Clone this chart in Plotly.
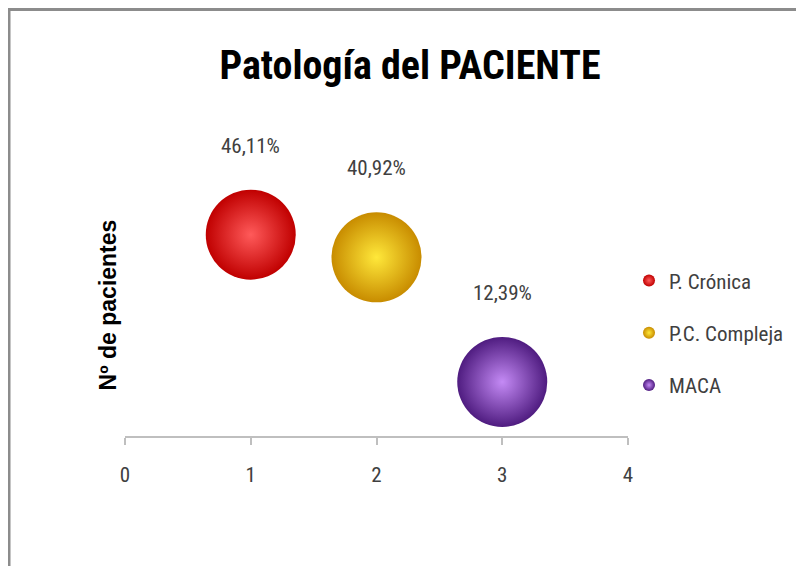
import plotly.graph_objects as go

categories = ["P. Crónica", "P.C. Compleja", "MACA"]
x_values = [1, 2, 3]
percent_values = [46.11, 40.92, 12.39]
label_texts = ["46,11%", "40,92%", "12,39%"]
center_colors = ["#ff5a5a", "#ffe83a", "#c48af5"]
edge_colors = ["#c00000", "#c88c00", "#4f1c80"]
x_ticks = [0, 1, 2, 3, 4]

NARROW = "Liberation Sans Narrow, Arial Narrow, Roboto Condensed, sans-serif"

fig = go.Figure()
for i, name in enumerate(categories):
    fig.add_trace(go.Scatter(
        x=[x_values[i]], y=[percent_values[i]],
        mode="markers", name=name,
        legendgroup=name,
        marker=dict(size=90, color=edge_colors[i],
                    gradient=dict(type="radial", color=center_colors[i]),
                    line=dict(width=0)),
        cliponaxis=False,
        hoverinfo="skip",
    ))
    fig.add_annotation(x=x_values[i], y=percent_values[i], text=label_texts[i],
                       showarrow=False, yshift=89,
                       font=dict(family=NARROW, size=21, color="#404040"))

fig.update_layout(
    width=796, height=558,
    paper_bgcolor="white", plot_bgcolor="white",
    margin=dict(l=117, r=176, t=166, b=130, autoexpand=False),
    title=dict(text="<b>Patología del PACIENTE</b>", x=0.505, xanchor="center",
               y=0.898, yanchor="middle",
               font=dict(family=NARROW, size=40, color="#000000")),
    xaxis=dict(range=[0, 4], tickvals=x_ticks, showgrid=False, zeroline=False,
               showline=True, linecolor="#bfbfbf", linewidth=2,
               ticks="outside", ticklen=7, tickcolor="#bfbfbf", tickwidth=2,
               tickfont=dict(family=NARROW, size=21, color="#404040"),
               ticklabelstandoff=12),
    yaxis=dict(range=[0, 60], showgrid=False, zeroline=False, showline=False,
               showticklabels=False, ticks="",
               title=dict(text="<b>Nº de pacientes</b>", standoff=0,
                          font=dict(family="Liberation Sans, Arial, sans-serif", size=23, color="#000000"))),
    legend=dict(x=1.002, xanchor="left", y=0.394, yanchor="middle",
                font=dict(family=NARROW, size=21, color="#404040"),
                itemsizing="constant", tracegroupgap=22, itemwidth=30,
                bgcolor="rgba(0,0,0,0)"),
    showlegend=True,
)

# outer frame lines (top and left), positioned in paper units
fig.add_shape(type="line", xref="paper", yref="paper", x0=-0.235, x1=1.4, y0=1.628, y1=1.628,
              line=dict(color="#8c8c8c", width=3), layer="above")
fig.add_shape(type="line", xref="paper", yref="paper", x0=-0.2306, x1=-0.2306, y0=-0.6, y1=1.632,
              line=dict(color="#8c8c8c", width=3), layer="above")

fig.write_html("out.html")
